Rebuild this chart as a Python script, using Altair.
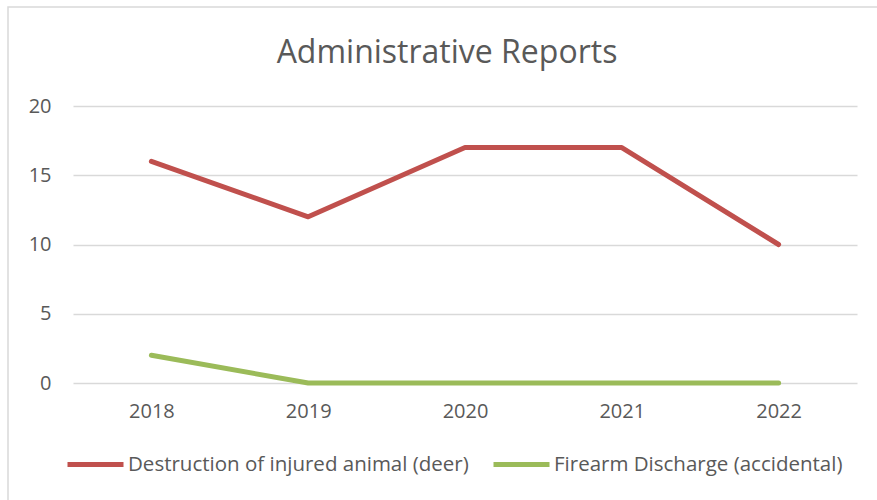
import altair as alt
import pandas as pd

years = ["2018", "2019", "2020", "2021", "2022"]
deer = [16, 12, 17, 17, 10]
firearm = [2, 0, 0, 0, 0]
series_names = ["Destruction of injured animal (deer)", "Firearm Discharge (accidental)"]
series_colors = ["#c0504d", "#9bbb59"]

rows = []
for name, vals in zip(series_names, [deer, firearm]):
    for y, v in zip(years, vals):
        rows.append({"year": y, "value": v, "series": name})
df = pd.DataFrame(rows)

FONT = "Open Sans"

lines = alt.Chart(df).mark_line(strokeWidth=5, strokeCap="round", strokeJoin="round").encode(
    x=alt.X("year:O", scale=alt.Scale(type="point", padding=0.5),
            axis=alt.Axis(title=None, labelAngle=0, ticks=False, domain=False,
                          labelPadding=18, labelFontSize=20, labelColor="#595959", labelFont=FONT)),
    y=alt.Y("value:Q", scale=alt.Scale(domain=[0, 20]),
            axis=alt.Axis(title=None, values=[0, 5, 10, 15, 20], ticks=False, domain=False,
                          gridColor="#d9d9d9", gridWidth=1.3, labelPadding=22,
                          labelFontSize=20, labelColor="#595959", labelFont=FONT)),
    color=alt.Color("series:N", scale=alt.Scale(domain=series_names, range=series_colors),
                    legend=alt.Legend(title=None, orient="none", legendX=-8, legendY=328,
                                      direction="horizontal", symbolType="stroke",
                                      symbolSize=3136, symbolStrokeWidth=5,
                                      labelFontSize=20.5, labelColor="#595959", labelFont=FONT,
                                      labelOffset=2, columnPadding=14, labelLimit=500)),
)

border = alt.Chart(pd.DataFrame({"a": [0]})).mark_rect(
    fill=None, stroke="#d9d9d9", strokeWidth=1.5, clip=False
).encode(x=alt.value(-65), x2=alt.value(810), y=alt.value(-99), y2=alt.value(400))

chart = alt.layer(border, lines).properties(
    width=784, height=277,
    title=alt.Title("Administrative Reports", fontSize=32, font=FONT, fontWeight="normal",
                    color="#595959", anchor="middle", dx=-18, offset=-64),
    autosize=alt.AutoSizeParams(type="none"),
    padding={"left": 73, "top": 106, "right": 20, "bottom": 117},
).configure_view(stroke=None)

chart.save("out.html", embed_options={"renderer": "svg", "actions": False})
